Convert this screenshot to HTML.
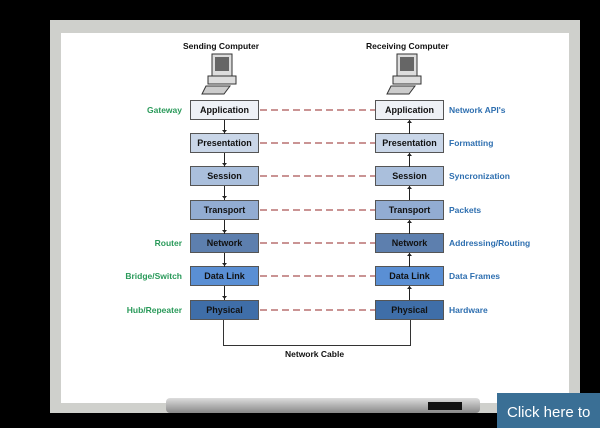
<!DOCTYPE html><html><head><style>
body{margin:0;width:600px;height:428px;background:#000;position:relative;overflow:hidden;font-family:"Liberation Sans",sans-serif}
.frame{position:absolute;left:50px;top:20px;width:530px;height:393px;background:#cfd0cc}
.white{position:absolute;left:61px;top:33px;width:508px;height:370px;background:#fff}
.b{position:absolute;width:67px;height:18px;border:1px solid #555;font-size:9px;font-weight:bold;text-align:center;line-height:18px;color:#111}
.l{position:absolute;font-size:8.5px;font-weight:bold;line-height:12px}
.g{color:#2a9a5a;text-align:right;width:90px}
.bl{color:#2e6fb0}
.v{position:absolute;width:1px;background:#222;height:14px}
</style></head><body>
<div class="frame"></div><div class="white"></div>
<div class="l" style="left:183px;top:40px;color:#111">Sending Computer</div>
<div class="l" style="left:366px;top:40px;color:#111">Receiving Computer</div>
<svg style="position:absolute;left:200px;top:52px" width="48" height="44"><rect x="12" y="2" width="20" height="22" fill="#ddd" stroke="#333"/><rect x="15" y="5" width="14" height="14" fill="#666"/><rect x="8" y="24" width="28" height="8" fill="#ddd" stroke="#333"/><path d="M6 34 L30 34 L24 42 L2 42Z" fill="#ccc" stroke="#333"/></svg>
<svg style="position:absolute;left:385px;top:52px" width="48" height="44"><rect x="12" y="2" width="20" height="22" fill="#ddd" stroke="#333"/><rect x="15" y="5" width="14" height="14" fill="#666"/><rect x="8" y="24" width="28" height="8" fill="#ddd" stroke="#333"/><path d="M6 34 L30 34 L24 42 L2 42Z" fill="#ccc" stroke="#333"/></svg>
<svg style="position:absolute;left:0;top:0" width="600" height="428">
<g stroke="#a55" stroke-width="1.3" stroke-dasharray="7,4">
<line x1="260" y1="110" x2="375" y2="110"/><line x1="260" y1="143" x2="375" y2="143"/><line x1="260" y1="176" x2="375" y2="176"/><line x1="260" y1="210" x2="375" y2="210"/><line x1="260" y1="243" x2="375" y2="243"/><line x1="260" y1="276" x2="375" y2="276"/><line x1="260" y1="310" x2="375" y2="310"/>
</g>
<g fill="#222">
<path d="M222 130 L227 130 L224.5 133Z"/><path d="M222 163 L227 163 L224.5 166Z"/><path d="M222 196 L227 196 L224.5 199Z"/><path d="M222 230 L227 230 L224.5 233Z"/><path d="M222 263 L227 263 L224.5 266Z"/><path d="M222 296 L227 296 L224.5 299Z"/>
<path d="M407 123 L412 123 L409.5 120Z"/><path d="M407 156 L412 156 L409.5 153Z"/><path d="M407 189 L412 189 L409.5 186Z"/><path d="M407 223 L412 223 L409.5 220Z"/><path d="M407 256 L412 256 L409.5 253Z"/><path d="M407 289 L412 289 L409.5 286Z"/>
</g></svg>
<div class="b" style="left:190px;top:100px;background:#eef1f6">Application</div>
<div class="b" style="left:375px;top:100px;background:#eef1f6">Application</div>
<div class="b" style="left:190px;top:133px;background:#c9d6e8">Presentation</div>
<div class="b" style="left:375px;top:133px;background:#c9d6e8">Presentation</div>
<div class="b" style="left:190px;top:166px;background:#aabfdc">Session</div>
<div class="b" style="left:375px;top:166px;background:#aabfdc">Session</div>
<div class="b" style="left:190px;top:200px;background:#92acd2">Transport</div>
<div class="b" style="left:375px;top:200px;background:#92acd2">Transport</div>
<div class="b" style="left:190px;top:233px;background:#5d7fae">Network</div>
<div class="b" style="left:375px;top:233px;background:#5d7fae">Network</div>
<div class="b" style="left:190px;top:266px;background:#5a8fd4">Data Link</div>
<div class="b" style="left:375px;top:266px;background:#5a8fd4">Data Link</div>
<div class="b" style="left:190px;top:300px;background:#3f6ea8">Physical</div>
<div class="b" style="left:375px;top:300px;background:#3f6ea8">Physical</div>
<div class="v" style="left:224px;top:120px"></div><div class="v" style="left:224px;top:153px"></div><div class="v" style="left:224px;top:186px"></div><div class="v" style="left:224px;top:220px"></div><div class="v" style="left:224px;top:253px"></div><div class="v" style="left:224px;top:286px"></div>
<div class="v" style="left:409px;top:120px"></div><div class="v" style="left:409px;top:153px"></div><div class="v" style="left:409px;top:186px"></div><div class="v" style="left:409px;top:220px"></div><div class="v" style="left:409px;top:253px"></div><div class="v" style="left:409px;top:286px"></div>
<div style="position:absolute;left:223px;top:320px;width:186px;height:25px;border:1px solid #333;border-top:none"></div>
<div class="l" style="left:285px;top:348px;color:#111">Network Cable</div>
<div class="l g" style="left:92px;top:104px">Gateway</div>
<div class="l g" style="left:92px;top:237px">Router</div>
<div class="l g" style="left:92px;top:270px">Bridge/Switch</div>
<div class="l g" style="left:92px;top:304px">Hub/Repeater</div>
<div class="l bl" style="left:449px;top:104px">Network API's</div>
<div class="l bl" style="left:449px;top:137px">Formatting</div>
<div class="l bl" style="left:449px;top:170px">Syncronization</div>
<div class="l bl" style="left:449px;top:204px">Packets</div>
<div class="l bl" style="left:449px;top:237px">Addressing/Routing</div>
<div class="l bl" style="left:449px;top:270px">Data Frames</div>
<div class="l bl" style="left:449px;top:304px">Hardware</div>
<div style="position:absolute;left:166px;top:398px;width:314px;height:15px;background:linear-gradient(#ddd,#888);border-radius:4px"></div>
<div style="position:absolute;left:428px;top:402px;width:34px;height:8px;background:#111"></div>
<div style="position:absolute;left:497px;top:393px;width:103px;height:35px;background:#3a6f95;color:#fff;font-size:15px;padding:11px 0 0 10px;box-sizing:border-box;white-space:nowrap">Click here to</div>
</body></html>
